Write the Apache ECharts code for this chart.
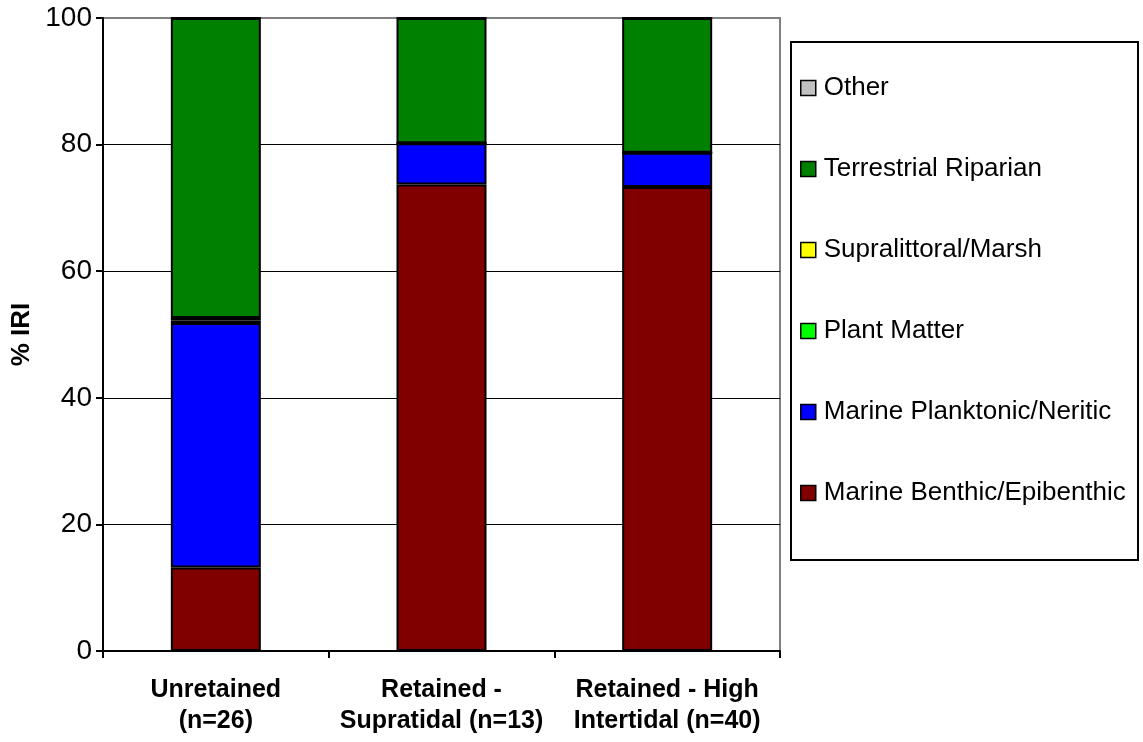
<!DOCTYPE html>
<html>
<head>
<meta charset="utf-8">
<script src="https://cdn.jsdelivr.net/npm/echarts@6/dist/echarts.min.js"></script>
<style>
  html, body { margin: 0; padding: 0; background: #fff; }
  #chart { width: 1143px; height: 742px; }
</style>
</head>
<body>
<div id="chart"></div>
<script>
// Diet composition (% IRI) by group
const categories = ['Unretained\n(n=26)', 'Retained -\nSupratidal (n=13)', 'Retained - High\nIntertidal (n=40)'];
const benthic       = [13.2, 73.7, 73.3];
const planktonic    = [38.6, 6.5, 5.4];
const plantMatter   = [0.4, 0, 0];
const supralittoral = [0.4, 0, 0];
const terrestrial   = [47.4, 19.8, 21.3];
const other         = [0, 0, 0];
const yTicks = [0, 20, 40, 60, 80, 100];

const FONT = "'Liberation Sans', Arial, sans-serif";

const seriesDefs = [
  { name: 'Marine Benthic/Epibenthic', data: benthic, color: '#800000' },
  { name: 'Marine Planktonic/Neritic', data: planktonic, color: '#0000FF' },
  { name: 'Plant Matter', data: plantMatter, color: '#00FF00' },
  { name: 'Supralittoral/Marsh', data: supralittoral, color: '#FFFF00' },
  { name: 'Terrestrial Riparian', data: terrestrial, color: '#008000' },
  { name: 'Other', data: other, color: '#C0C0C0' }
];

const chart = echarts.init(document.getElementById('chart'), null, { renderer: 'canvas' });

chart.setOption({
  animation: false,
  backgroundColor: '#fff',
  textStyle: { fontFamily: FONT },
  grid: {
    left: 103, right: 363, top: 18, bottom: 91,
    show: true, borderColor: '#808080', borderWidth: 2, backgroundColor: 'transparent'
  },
  legend: {
    orient: 'vertical',
    left: 795,
    top: 70,
    itemWidth: 15,
    itemHeight: 15,
    itemGap: 55,
    icon: 'rect',
    selectedMode: false,
    data: seriesDefs.map(s => s.name).reverse(),
    itemStyle: { borderColor: '#000', borderWidth: 1.5 },
    textStyle: { fontFamily: FONT, fontSize: 26, color: '#000', lineHeight: 26, padding: [0, 0, 0, 3] }
  },
  graphic: [{
    type: 'rect',
    shape: { x: 791, y: 42, width: 347, height: 518 },
    style: { fill: 'transparent', stroke: '#000', lineWidth: 2 },
    z: 0
  }],
  xAxis: {
    type: 'category',
    data: categories,
    boundaryGap: true,
    axisLine: { lineStyle: { color: '#000', width: 2 } },
    axisTick: { show: true, interval: 0, length: 7, lineStyle: { color: '#000', width: 2 } },
    axisLabel: {
      interval: 0, margin: 24, fontFamily: FONT, fontSize: 25, fontWeight: 'bold',
      color: '#000', lineHeight: 31
    }
  },
  yAxis: {
    type: 'value',
    min: 0, max: 100, interval: 20,
    name: '% IRI',
    nameLocation: 'middle',
    nameGap: 65,
    nameTextStyle: { fontFamily: FONT, fontSize: 26, fontWeight: 'bold', color: '#000' },
    axisLine: { show: true, lineStyle: { color: '#000', width: 2 } },
    axisTick: { show: true, length: 7, lineStyle: { color: '#000', width: 2 } },
    axisLabel: {
      margin: 11, fontFamily: FONT, fontSize: 28, color: '#000',
      formatter: v => yTicks.includes(v) ? String(v) : ''
    },
    splitLine: {
      show: true,
      lineStyle: { color: ['#000', '#000', '#000', '#000', '#000', '#808080'], width: 1 }
    }
  },
  series: seriesDefs.map(s => ({
    name: s.name,
    type: 'bar',
    stack: 'total',
    barWidth: 90,
    data: s.data,
    itemStyle: { color: s.color, borderColor: '#000', borderWidth: 2 },
    emphasis: { disabled: true }
  }))
});
</script>
</body>
</html>
